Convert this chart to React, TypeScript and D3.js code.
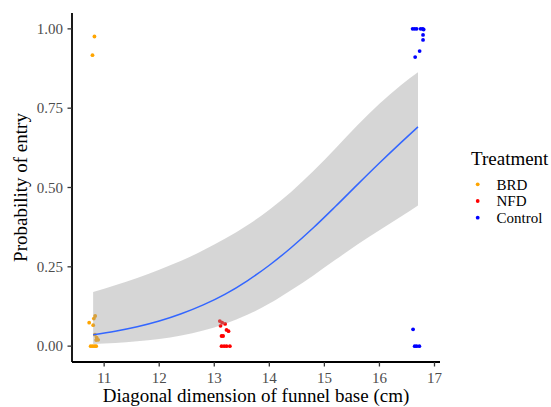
import React from 'react'
import * as d3 from 'd3'

const brdX = [10.824, 10.788, 10.728, 10.813, 10.837, 10.801, 10.832, 10.864, 10.891, 10.855, 10.755, 10.792, 10.828, 10.855]
const brdY = [0.976, 0.917, 0.074, 0.087, 0.095, 0.066, 0.036, 0.027, 0.020, 0.019, 0, 0, 0, 0]
const nfdX = [13.101, 13.143, 13.114, 13.197, 13.223, 13.259, 13.161, 13.132, 13.132, 13.179, 13.223, 13.283]
const nfdY = [0.079, 0.074, 0.064, 0.070, 0.051, 0.047, 0.032, 0.032, 0, 0, 0, 0]
const ctlX = [16.611, 16.640, 16.676, 16.725, 16.603, 16.640, 16.676, 16.748, 16.784, 16.803, 16.792, 16.792, 16.730, 16.649]
const ctlY = [0.053, 0, 0, 0, 1, 1, 1, 1, 1, 0.998, 0.981, 0.965, 0.930, 0.911]

// fitted logistic curve + 95% band
const fitX = [10.8, 11.2, 11.6, 12, 12.4, 12.8, 13.2, 13.6, 14, 14.4, 14.8, 15.2, 15.6, 16, 16.4, 16.7]
const fitY = [0.036, 0.047, 0.061, 0.079, 0.102, 0.130, 0.164, 0.206, 0.255, 0.311, 0.373, 0.440, 0.509, 0.577, 0.643, 0.691]
const fitLo = [0.0067, 0.0101, 0.0152, 0.0227, 0.0336, 0.049, 0.0703, 0.0986, 0.134, 0.177, 0.223, 0.272, 0.320, 0.365, 0.409, 0.443]
const fitHi = [0.171, 0.192, 0.215, 0.241, 0.269, 0.302, 0.339, 0.381, 0.430, 0.487, 0.552, 0.623, 0.696, 0.764, 0.824, 0.863]

const groups = ['BRD', 'NFD', 'Control']
const colors = ['orange', 'red', 'blue']
const xTicks = [11, 12, 13, 14, 15, 16, 17]
const yTicks = [0, 0.25, 0.5, 0.75, 1]

const font = '"Liberation Serif", "Times New Roman", serif'

export default function App() {
  const x = d3.scaleLinear().domain([10.416, 17.1]).range([72, 440])
  const y = d3.scaleLinear().domain([-0.05, 1.05]).range([362, 13])

  const pts = [
    brdX.map((v, i) => [v, brdY[i]]),
    nfdX.map((v, i) => [v, nfdY[i]]),
    ctlX.map((v, i) => [v, ctlY[i]]),
  ]

  const band = d3.area<number>()
    .x(i => x(fitX[i]))
    .y0(i => y(fitLo[i]))
    .y1(i => y(fitHi[i]))
    .curve(d3.curveMonotoneX)
  const line = d3.line<number>()
    .x(i => x(fitX[i]))
    .y(i => y(fitY[i]))
    .curve(d3.curveMonotoneX)
  const idx = d3.range(fitX.length)

  return (
    <svg width={551} height={407} style={{ position: 'absolute', left: 0, top: 0 }} fontFamily={font}>
      <rect width={551} height={407} fill='white' />
      {pts.map((g, gi) => (
        <g key={gi}>
          {g.map((d, i) => (
            <circle key={i} cx={x(d[0])} cy={y(d[1])} r={1.9} fill={colors[gi]} />
          ))}
        </g>
      ))}
      <path d={band(idx) || ''} fill='#999999' fillOpacity={0.4} />
      <path d={line(idx) || ''} fill='none' stroke='#3366FF' strokeWidth={1.5} />

      {/* axes */}
      <line x1={72} x2={72} y1={13} y2={362} stroke='black' strokeWidth={1.8} />
      <line x1={72} x2={440} y1={362} y2={362} stroke='black' strokeWidth={1.8} />
      {yTicks.map(t => (
        <g key={t}>
          <line x1={67.5} x2={72} y1={y(t)} y2={y(t)} stroke='#333333' strokeWidth={1.3} />
          <text x={63} y={y(t)} dy='0.35em' textAnchor='end' fontSize={15} fill='#4D4D4D'>{d3.format('.2f')(t)}</text>
        </g>
      ))}
      {xTicks.map(t => (
        <g key={t}>
          <line x1={x(t)} x2={x(t)} y1={362} y2={366.5} stroke='#333333' strokeWidth={1.3} />
          <text x={x(t)} y={383} textAnchor='middle' fontSize={15} fill='#4D4D4D'>{t}</text>
        </g>
      ))}
      <text x={256} y={402} textAnchor='middle' fontSize={19}>Diagonal dimension of funnel base (cm)</text>
      <text transform='translate(27,187.5) rotate(-90)' textAnchor='middle' fontSize={19}>Probability of entry</text>

      {/* legend */}
      <text x={471} y={165} fontSize={19}>Treatment</text>
      {groups.map((g, i) => (
        <g key={g} transform={`translate(0,${184.3 + i * 16.7})`}>
          <circle cx={477.7} cy={0} r={1.9} fill={colors[i]} />
          <text x={496.5} y={0} dy='0.35em' fontSize={15}>{g}</text>
        </g>
      ))}
    </svg>
  )
}
